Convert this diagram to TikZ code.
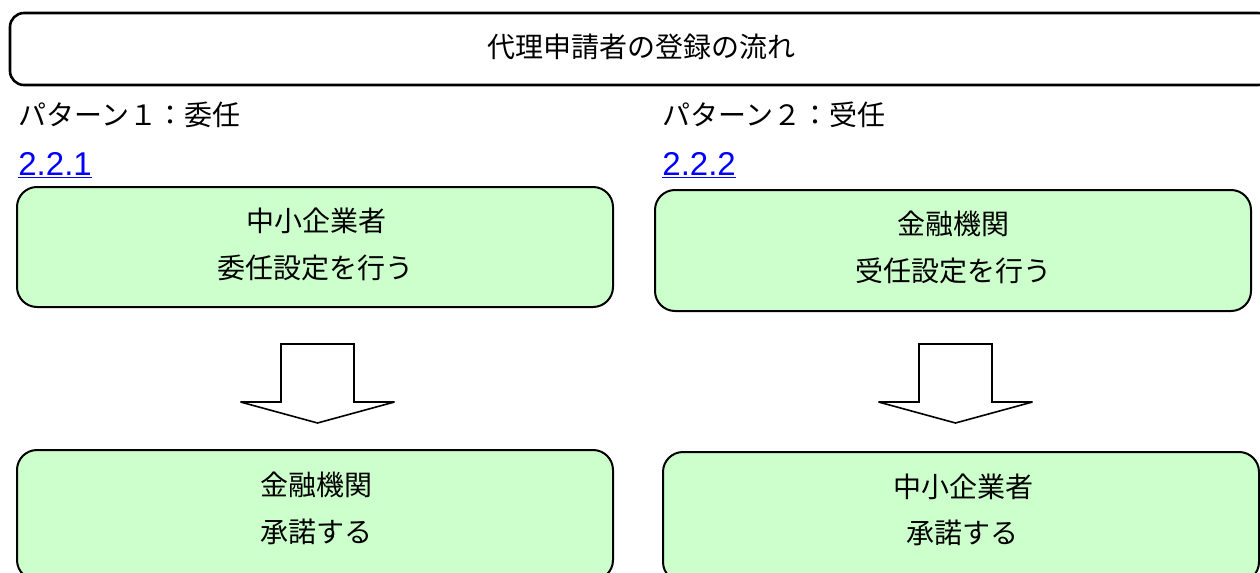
\documentclass[tikz,border=0pt]{standalone}
\usepackage{fontspec}
\newfontfamily\jp{Noto Sans CJK JP}
\newfontfamily\lnk{Liberation Sans}
\definecolor{boxgreen}{RGB}{204,255,204}
\definecolor{linkblue}{RGB}{0,0,255}
\tikzset{
  greenbox/.style={draw=black, line width=1pt, fill=boxgreen, rounded corners=10pt, inner sep=0pt, minimum width=298pt},
  titlebox/.style={draw=black, line width=1.3pt, fill=white, rounded corners=7pt, inner sep=0pt},
  jtext/.style={inner sep=0pt, anchor=base, font=\jp\fontsize{14pt}{16pt}\selectfont},
  ltext/.style={inner sep=0pt, anchor=base west, font=\jp\fontsize{14pt}{16pt}\selectfont},
  linktext/.style={inner sep=0pt, anchor=base west, text=linkblue, font=\lnk\fontsize{16.5pt}{18pt}\selectfont},
  arrowline/.style={draw=black, line width=0.8pt, fill=white, line join=miter, miter limit=3},
  pics/downarrow/.style={code={
    \draw[arrowline] (-36.5,0) -- (-36.5,58) -- (-77,58) -- (0,79) -- (77,58) -- (36.5,58) -- (36.5,0) -- cycle;
  }}
}
\begin{document}
\begin{tikzpicture}[x=0.5pt, y=-0.5pt]
\useasboundingbox (0,0) rectangle (1260,573);
\clip (0,0) rectangle (1260,573);
\fill[white] (0,0) rectangle (1260,573);
% title
\node[titlebox, minimum width=631pt, minimum height=36pt] (T) at (641,49) {};
\node[jtext] (Tt) at (641,57.5) {代理申請者の登録の流れ};
% pattern labels
\node[ltext] (P1) at (18,125.5) {パターン１：委任};
\node[ltext] (P2) at (662,125.5) {パターン２：受任};
\node[linktext] (L1) at (18,175) {\underline{2.2.1}};
\node[linktext] (L2) at (662,175) {\underline{2.2.2}};
% boxes
\node[greenbox, minimum height=60pt] (A) at (315,247) {};
\node[jtext] (A1) at (316,231.5) {中小企業者};
\node[jtext] (A2) at (315,278.5) {委任設定を行う};
\node[greenbox, minimum height=60.5pt] (B) at (953,250.5) {};
\node[jtext] (B1) at (953,234.5) {金融機関};
\node[jtext] (B2) at (953,281.5) {受任設定を行う};
\node[greenbox, minimum height=65pt] (C) at (315,515) {};
\node[jtext] (C1) at (316,495.5) {金融機関};
\node[jtext] (C2) at (316,542.5) {承諾する};
\node[greenbox, minimum height=65pt] (D) at (961,517) {};
\node[jtext] (D1) at (963,497.5) {中小企業者};
\node[jtext] (D2) at (962,543.5) {承諾する};
% block arrows
\pic at (317.5,344) {downarrow};
\pic at (955.5,344) {downarrow};
\end{tikzpicture}
\end{document}
